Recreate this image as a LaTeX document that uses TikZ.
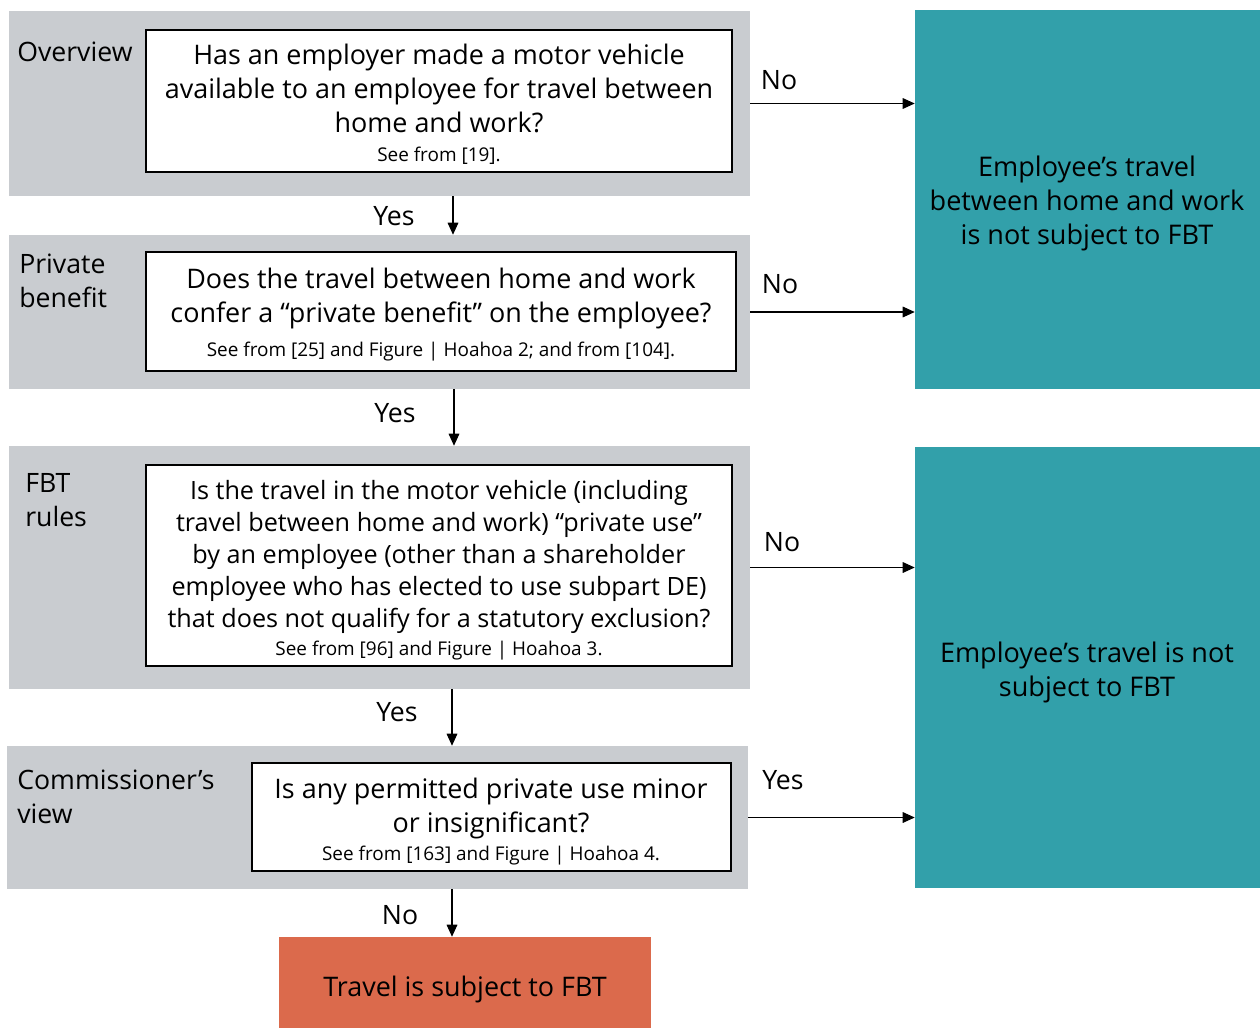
\documentclass[tikz,border=0pt]{standalone}
\usepackage{fontspec}
\setmainfont{Open Sans}
\usetikzlibrary{arrows.meta,fit}
\definecolor{bandgray}{HTML}{C9CCD0}
\definecolor{tealbox}{HTML}{32A0AA}
\definecolor{orangebox}{HTML}{DB6A4C}
\newcommand\notesize{\fontsize{14.2}{17}\selectfont}
\begin{document}
\begin{tikzpicture}[x=0.75pt,y=-0.75pt,
  band/.style={fill=bandgray,draw=none,inner sep=0pt},
  qbox/.style={fill=white,draw=black,line width=1.2pt,inner sep=0pt},
  tealfill/.style={fill=tealbox,draw=none,inner sep=0pt},
  orangefill/.style={fill=orangebox,draw=none,inner sep=0pt},
  qtext/.style={align=center,inner sep=0pt,font=\fontsize{20.2}{25.5}\selectfont},
  qtextsm/.style={align=center,inner sep=0pt,font=\fontsize{18.9}{24}\selectfont},
  rtext/.style={align=center,inner sep=0pt,font=\fontsize{20.3}{25.5}\selectfont},
  lab/.style={align=left,anchor=north west,inner sep=0pt,font=\fontsize{20}{25.5}\selectfont},
  yn/.style={inner sep=0pt,font=\fontsize{20}{22}\selectfont},
  arr/.style={-{Triangle[length=9pt,width=8pt]},line width=0.8pt}]
\useasboundingbox (0,0) rectangle (1260,1028);
% bands
\node[band,fit={(9,11)(750,196)}] (band1) {};
\node[band,fit={(9,235)(750,389)}] (band2) {};
\node[band,fit={(9,446)(750,689)}] (band3) {};
\node[band,fit={(7,746)(748,889)}] (band4) {};
% question boxes
\node[qbox,fit={(146,30)(732,172)}] (q1) {};
\node[qbox,fit={(146,252)(736,371)}] (q2) {};
\node[qbox,fit={(146,465)(732,666)}] (q3) {};
\node[qbox,fit={(252,763)(731,871)}] (q4) {};
% result boxes
\node[tealfill,fit={(915,10)(1260,389)}] (r1) {};
\node[tealfill,fit={(915,447)(1260,888)}] (r2) {};
\node[orangefill,fit={(279,937)(651,1028)}] (r3) {};
% question texts
\node[qtext] (q1t) at (439,104.5) {Has an employer made a motor vehicle\\available to an employee for travel between\\home and work?\\[-3.5pt]{\notesize See from [19].}};
\node[qtext] (q2t) at (441,315) {Does the travel between home and work\\confer a “private benefit” on the employee?\\{\notesize See from [25] and Figure | Hoahoa 2; and from [104].}};
\node[qtextsm] (q3t) at (439,570) {Is the travel in the motor vehicle (including\\travel between home and work) “private use”\\by an employee (other than a shareholder\\employee who has elected to use subpart DE)\\that does not qualify for a statutory exclusion?\\[-3pt]{\notesize See from [96] and Figure | Hoahoa 3.}};
\node[qtext] (q4t) at (491,821.5) {Is any permitted private use minor\\or insignificant?\\[-5pt]{\notesize See from [163] and Figure | Hoahoa 4.}};
% result texts
\node[rtext] (r1t) at (1087,203) {Employee’s travel\\between home and work\\is not subject to FBT};
\node[rtext] (r2t) at (1087,672) {Employee’s travel is not\\subject to FBT};
\node[qtext] (r3t) at (465,989) {Travel is subject to FBT};
% side labels
\node[lab] (l1) at (17,42) {Overview};
\node[lab] (l2) at (19,254) {Private\\benefit};
\node[lab] (l3) at (25,473) {FBT\\rules};
\node[lab] (l4) at (17,770) {Commissioner’s\\view};
% connectors
\draw[arr] (band1.east) -- (band1.east -| r1.west);
\draw[arr] (band2.east) -- (band2.east -| r1.west);
\draw[arr] (band3.east) -- (band3.east -| r2.west);
\draw[arr] (band4.east) -- (band4.east -| r2.west);
\coordinate (d1) at (453,196);
\coordinate (d2) at (454,389);
\coordinate (d3) at (452,689);
\coordinate (d4) at (452,889);
\draw[arr] (d1) -- (d1 |- band2.north);
\draw[arr] (d2) -- (d2 |- band3.north);
\draw[arr] (d3) -- (d3 |- band4.north);
\draw[arr] (d4) -- (d4 |- r3.north);
% yes/no labels
\node[yn] (n1) at (779,80) {No};
\node[yn] (y1) at (394,216) {Yes};
\node[yn] (n2) at (780,284) {No};
\node[yn] (y2) at (395,413) {Yes};
\node[yn] (n3) at (782,542) {No};
\node[yn] (y3) at (397,712) {Yes};
\node[yn] (y4) at (783,780) {Yes};
\node[yn] (n4) at (400,915) {No};
\end{tikzpicture}
\end{document}
